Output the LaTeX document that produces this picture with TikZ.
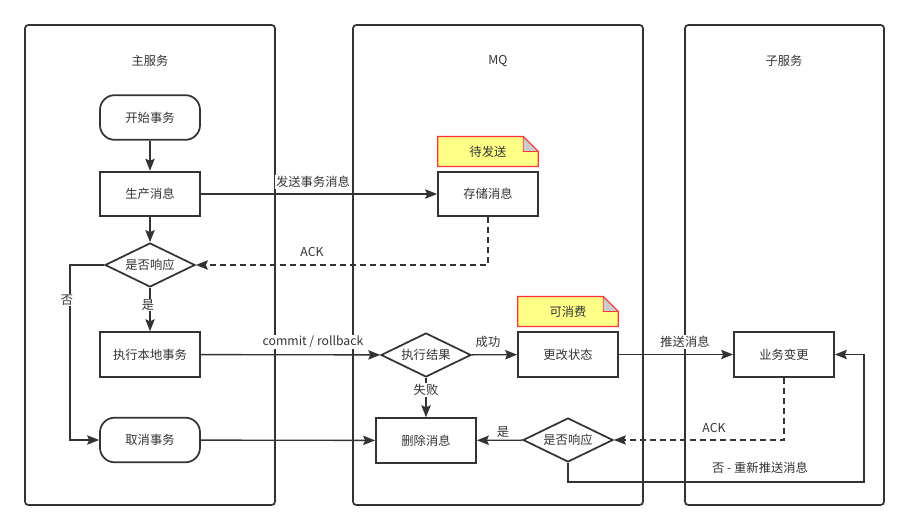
\documentclass[tikz,border=0pt]{standalone}
\usepackage{fontspec}
\setmainfont{Noto Sans CJK SC}
\usetikzlibrary{shapes.geometric,arrows.meta}
\definecolor{ln}{HTML}{333333}
\definecolor{notefill}{HTML}{FFFF88}
\definecolor{notered}{HTML}{FF3333}
\definecolor{foldgray}{HTML}{CCCCCC}
\begin{document}
\begin{tikzpicture}[x=0.75pt,y=-0.75pt,
  font=\fontsize{9.2}{11}\selectfont, text=ln,
  lane/.style={draw=ln, line width=1.3pt, rounded corners=2.5pt},
  title/.style={inner sep=0pt},
  box/.style={draw=ln, line width=1.3pt, minimum width=75pt, minimum height=33.5pt, inner sep=0pt, fill=white},
  term/.style={box, rounded corners=11pt},
  dia/.style={draw=ln, line width=1.3pt, shape=diamond, aspect=2, minimum width=67.5pt, minimum height=33pt, inner sep=0pt, fill=white},
  notebox/.style={minimum width=75pt, minimum height=22pt, inner sep=0pt},
  arr/.style={draw=ln, line width=1pt, -{Stealth[length=9pt,width=7pt,inset=1.5pt]}},
  dsh/.style={arr, dash pattern=on 4.5pt off 3pt},
  lbl/.style={fill=white, inner sep=0.8pt}
]
\useasboundingbox (0,0) rectangle (909,530);
% lanes
\draw[lane] (25,25) rectangle (275,505);
\draw[lane] (353,25) rectangle (643,505);
\draw[lane] (685,25) rectangle (884,505);
\node[title] (t1) at (150,61) {主服务};
\node[title] (t2) at (498,61) {MQ};
\node[title] (t3) at (784,61) {子服务};

% notes
\node[notebox] (n1) at (488,151.5) {};
\node[notebox] (n2) at (568,311.5) {};
\foreach \n in {n1,n2}{
  \draw[draw=notered, fill=notefill, line width=0.9pt] (\n.south west) -- (\n.north west) -- ([xshift=-11.25pt]\n.north east) -- ([yshift=-11.25pt]\n.north east) -- (\n.south east) -- cycle;
  \draw[draw=notered, fill=foldgray, line width=0.6pt] ([xshift=-11.25pt]\n.north east) -- ([xshift=-11.25pt,yshift=-11.25pt]\n.north east) -- ([yshift=-11.25pt]\n.north east) -- cycle;
}
\node[notebox] (n1t) at (n1) {待发送};
\node[notebox] (n2t) at (n2) {可消费};

% main nodes
\node[term] (start) at (150,117.5) {开始事务};
\node[box] (prod) at (150,194) {生产消息};
\node[dia] (q1) at (150,265) {是否响应};
\node[box] (exec) at (150,354.5) {执行本地事务};
\node[term] (cancel) at (150,440) {取消事务};
\node[box] (store) at (488,194) {存储消息};
\node[dia] (res) at (426,355) {执行结果};
\node[box] (status) at (568,354.5) {更改状态};
\node[box] (del) at (426,440.5) {删除消息};
\node[dia] (q2) at (568,440) {是否响应};
\node[box] (biz) at (784,354.5) {业务变更};

% edges
\draw[arr] (start) -- (prod);
\draw[arr] (prod) -- (q1);
\draw[arr] (prod) -- (store);
\node[lbl] (l1) at (313,182) {发送事务消息};
\draw[dsh] (store.south) |- (q1.east);
\node[lbl] (l2) at (312,252) {ACK};
\draw[arr] (q1) -- (exec);
\node[lbl] (l3) at (148,305) {是};
\draw[arr] (q1.west) -- (70,265) -- (70,440) -- (cancel.west);
\node[lbl] (l4) at (67,300) {否};
\draw[arr] (exec) -- (res);
\node[lbl] (l5) at (313,342) {commit / rollback};
\draw[arr] (res) -- (status);
\node[lbl] (l6) at (488,342) {成功};
\draw[arr] (res) -- (del);
\node[lbl] (l7) at (426,390) {失败};
\draw[arr] (cancel) -- (del);
\draw[arr] (status) -- (biz);
\node[lbl] (l8) at (685,342) {推送消息};
\draw[dsh] (biz.south) |- (q2.east);
\node[lbl] (l9) at (714,428) {ACK};
\draw[arr] (q2) -- (del);
\node[lbl] (l10) at (503,432) {是};
\draw[arr] (q2.south) -- (568,482) -- (864,482) -- (864,354.5) -- (biz.east);
\node[lbl] (l11) at (760,468) {否 - 重新推送消息};
\end{tikzpicture}
\end{document}
